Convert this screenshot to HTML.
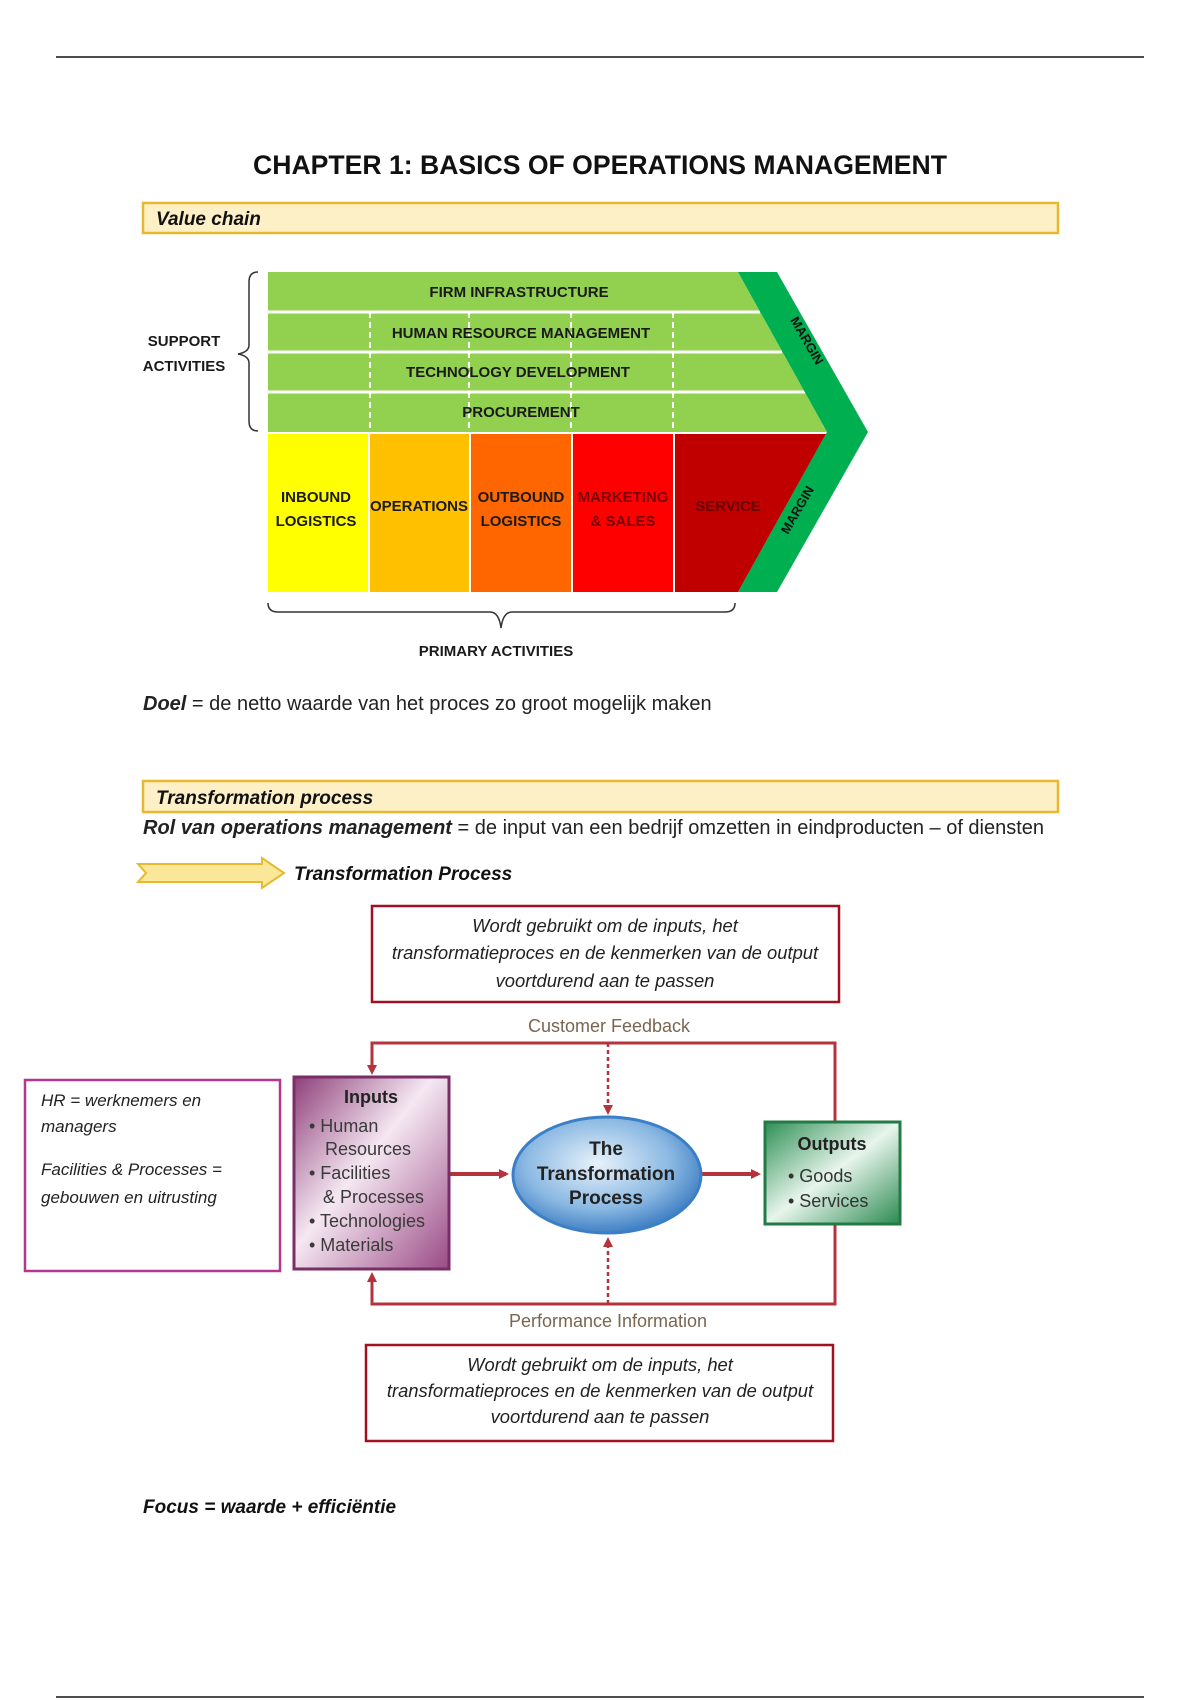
<!DOCTYPE html>
<html><head><meta charset="utf-8"><style>
html,body{margin:0;padding:0;background:#fff;}
svg{display:block;font-family:"Liberation Sans",sans-serif;}
</style></head><body>
<svg width="1200" height="1700" viewBox="0 0 1200 1700" xmlns="http://www.w3.org/2000/svg">
<defs>
<marker id="ar" markerWidth="10" markerHeight="10" refX="7" refY="5" orient="auto" markerUnits="userSpaceOnUse"><path d="M0,0 L10,5 L0,10 z" fill="#b5333c"/></marker>
<linearGradient id="gin" x1="0" y1="0" x2="1" y2="1"><stop offset="0" stop-color="#8e3f7a"/><stop offset="0.45" stop-color="#f5e8f2"/><stop offset="1" stop-color="#9a4a85"/></linearGradient>
<linearGradient id="gout" x1="0" y1="0" x2="1" y2="1"><stop offset="0" stop-color="#2e8f55"/><stop offset="0.5" stop-color="#e8f5ec"/><stop offset="1" stop-color="#2a8a50"/></linearGradient>
<radialGradient id="gel" cx="0.45" cy="0.4" r="0.65"><stop offset="0" stop-color="#e8f2fb"/><stop offset="0.6" stop-color="#8ab8e2"/><stop offset="1" stop-color="#2f73bd"/></radialGradient>
</defs>
<rect width="1200" height="1700" fill="#fff"/>
<line x1="56" y1="57" x2="1144" y2="57" stroke="#111" stroke-width="1.5"/>
<line x1="56" y1="1697" x2="1144" y2="1697" stroke="#111" stroke-width="1.5"/>
<text x="600" y="174" font-size="26.6" font-weight="bold" text-anchor="middle" fill="#111">CHAPTER 1: BASICS OF OPERATIONS MANAGEMENT</text>
<rect x="143" y="203" width="915" height="30" fill="#fdf0c6" stroke="#e8b92e" stroke-width="2.5"/>
<text x="156" y="225" font-size="19" font-weight="bold" font-style="italic" fill="#111">Value chain</text>

<polygon points="268,272 738,272 827,432 268,432" fill="#92d050"/>
<g stroke="#fff" stroke-width="3">
<line x1="268" y1="312" x2="760" y2="312"/><line x1="268" y1="352" x2="782" y2="352"/><line x1="268" y1="392" x2="805" y2="392"/>
</g>
<g stroke="#fff" stroke-width="2" stroke-dasharray="6,4">
<line x1="370" y1="312" x2="370" y2="432"/><line x1="469" y1="312" x2="469" y2="432"/><line x1="571" y1="312" x2="571" y2="432"/><line x1="673" y1="312" x2="673" y2="432"/>
</g>
<rect x="268" y="434" width="100" height="158" fill="#ffff00"/>
<rect x="370" y="434" width="99" height="158" fill="#ffc000"/>
<rect x="471" y="434" width="100" height="158" fill="#ff6600"/>
<rect x="573" y="434" width="100" height="158" fill="#ff0000"/>
<polygon points="675,434 826,434 738,592 675,592" fill="#c00000"/>
<polygon points="738,272 777,272 868,432 777,592 738,592 827,432" fill="#00b050"/>
<g font-size="15" font-weight="bold" fill="#1a1a1a" text-anchor="middle">
<text x="519" y="297">FIRM INFRASTRUCTURE</text>
<text x="521" y="338">HUMAN RESOURCE MANAGEMENT</text>
<text x="518" y="377">TECHNOLOGY DEVELOPMENT</text>
<text x="521" y="417">PROCUREMENT</text>
<text x="316" y="502">INBOUND</text><text x="316" y="526">LOGISTICS</text>
<text x="419" y="511">OPERATIONS</text>
<text x="521" y="502">OUTBOUND</text><text x="521" y="526">LOGISTICS</text>
<text x="623" y="502" fill="#7a0000">MARKETING</text><text x="623" y="526" fill="#7a0000">&amp; SALES</text>
<text x="728" y="511" fill="#6a0000">SERVICE</text>
<text x="184" y="346">SUPPORT</text><text x="184" y="371">ACTIVITIES</text>
<text x="496" y="656">PRIMARY ACTIVITIES</text>
</g>
<text font-size="13" font-weight="bold" fill="#111" transform="translate(790,320) rotate(60)">MARGIN</text>
<text font-size="13" font-weight="bold" fill="#111" transform="translate(788,535) rotate(-60)">MARGIN</text>
<path d="M258,272 Q249,272 249,282 L249,345 Q249,352 238,354 Q249,356 249,363 L249,421 Q249,431 258,431" fill="none" stroke="#333" stroke-width="1.5"/>
<path d="M268,603 Q268,612 278,612 L490,612 Q499,612 501,628 Q503,612 512,612 L725,612 Q735,612 735,603" fill="none" stroke="#333" stroke-width="1.5"/>

<text x="143" y="710" font-size="20" fill="#222"><tspan font-weight="bold" font-style="italic">Doel</tspan> = de netto waarde van het proces zo groot mogelijk maken</text>

<rect x="143" y="781" width="915" height="31" fill="#fdf0c6" stroke="#e8b92e" stroke-width="2.5"/>
<text x="156" y="804" font-size="19" font-weight="bold" font-style="italic" fill="#111">Transformation process</text>
<text x="143" y="834" font-size="20" fill="#222"><tspan font-weight="bold" font-style="italic">Rol van operations management</tspan> = de input van een bedrijf omzetten in eindproducten – of diensten</text>
<polygon points="138,864 262,864 262,858 284,873 262,888 262,882 138,882 146,873" fill="#fbe79a" stroke="#e8b92e" stroke-width="2"/>
<text x="294" y="880" font-size="19" font-weight="bold" font-style="italic" fill="#111">Transformation Process</text>

<rect x="372" y="906" width="467" height="96" fill="#fff" stroke="#a01020" stroke-width="2.5"/>
<g font-size="18.4" font-style="italic" fill="#222" text-anchor="middle">
<text x="605" y="932">Wordt gebruikt om de inputs, het</text>
<text x="605" y="959">transformatieproces en de kenmerken van de output</text>
<text x="605" y="987">voortdurend aan te passen</text>
</g>
<text x="609" y="1032" font-size="18" fill="#7a6550" text-anchor="middle">Customer Feedback</text>
<path d="M835,1122 L835,1043 L372,1043 L372,1072" fill="none" stroke="#b5333c" stroke-width="3" marker-end="url(#ar)"/>
<path d="M835,1224 L835,1304 L372,1304 L372,1275" fill="none" stroke="#b5333c" stroke-width="3" marker-end="url(#ar)"/>
<line x1="608" y1="1043" x2="608" y2="1112" stroke="#b5333c" stroke-width="2.5" stroke-dasharray="4,3" marker-end="url(#ar)"/>
<line x1="608" y1="1304" x2="608" y2="1240" stroke="#b5333c" stroke-width="2.5" stroke-dasharray="4,3" marker-end="url(#ar)"/>
<line x1="449" y1="1174" x2="506" y2="1174" stroke="#b5333c" stroke-width="4" marker-end="url(#ar)"/>
<line x1="701" y1="1174" x2="758" y2="1174" stroke="#b5333c" stroke-width="4" marker-end="url(#ar)"/>

<rect x="25" y="1080" width="255" height="191" fill="#fff" stroke="#b0388f" stroke-width="2.5"/>
<g font-size="17" font-style="italic" fill="#222">
<text x="41" y="1106">HR = werknemers en</text>
<text x="41" y="1132">managers</text>
<text x="41" y="1175">Facilities &amp; Processes =</text>
<text x="41" y="1203">gebouwen en uitrusting</text>
</g>

<rect x="294" y="1077" width="155" height="192" fill="url(#gin)" stroke="#7a2e68" stroke-width="3"/>
<g font-size="18" fill="#3a3a3a">
<text x="371" y="1103" text-anchor="middle" font-weight="bold" fill="#222">Inputs</text>
<text x="309" y="1132">• Human</text>
<text x="325" y="1155">Resources</text>
<text x="309" y="1179">• Facilities</text>
<text x="323" y="1203">&amp; Processes</text>
<text x="309" y="1227">• Technologies</text>
<text x="309" y="1251">• Materials</text>
</g>
<ellipse cx="607" cy="1175" rx="94" ry="58" fill="url(#gel)" stroke="#3b80c6" stroke-width="3"/>
<g font-size="19" font-weight="bold" fill="#222" text-anchor="middle">
<text x="606" y="1155">The</text>
<text x="606" y="1180">Transformation</text>
<text x="606" y="1204">Process</text>
</g>
<rect x="765" y="1122" width="135" height="102" fill="url(#gout)" stroke="#247a45" stroke-width="3"/>
<g font-size="18" fill="#333">
<text x="832" y="1150" text-anchor="middle" font-weight="bold" fill="#222">Outputs</text>
<text x="788" y="1182">• Goods</text>
<text x="788" y="1207">• Services</text>
</g>
<text x="608" y="1327" font-size="18" fill="#7a6550" text-anchor="middle">Performance Information</text>

<rect x="366" y="1345" width="467" height="96" fill="#fff" stroke="#a01020" stroke-width="2.5"/>
<g font-size="18.4" font-style="italic" fill="#222" text-anchor="middle">
<text x="600" y="1371">Wordt gebruikt om de inputs, het</text>
<text x="600" y="1397">transformatieproces en de kenmerken van de output</text>
<text x="600" y="1423">voortdurend aan te passen</text>
</g>
<text x="143" y="1513" font-size="19" font-weight="bold" font-style="italic" fill="#111">Focus = waarde + efficiëntie</text>
</svg>
</body></html>
